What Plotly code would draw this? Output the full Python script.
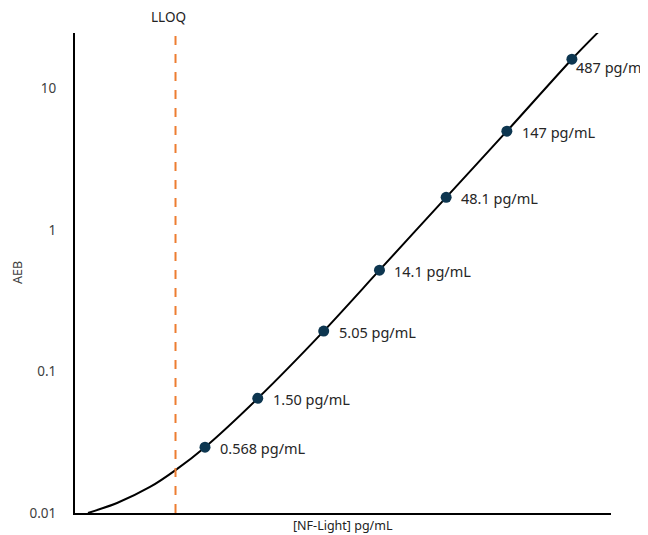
import math
import plotly.graph_objects as go

# Calibrator concentrations (pg/mL) and measured AEB
conc = [0.568, 1.50, 5.05, 14.1, 48.1, 147, 487]
aeb = [0.0292, 0.0646, 0.193, 0.520, 1.70, 4.99, 16.1]
labels = ["0.568 pg/mL", "1.50 pg/mL", "5.05 pg/mL", "14.1 pg/mL",
          "48.1 pg/mL", "147 pg/mL", "487 pg/ml"]

# Fitted curve
curve_x = [0.0659, 0.1125, 0.2063, 0.330, 0.568, 1.50, 5.05, 14.1, 48.1, 147, 487, 787]
curve_y = [0.0100, 0.01177, 0.01527, 0.0201, 0.0292, 0.0646, 0.193, 0.520, 1.70, 4.99, 16.1, 24.9]

lloq = 0.330
y_ticks = [0.01, 0.1, 1, 10]
y_tick_text = ["0.01", "0.1", "1", "10"]

FONT = "Noto Sans"
TXT = "#404040"

fig = go.Figure()
fig.add_trace(go.Scatter(
    x=curve_x, y=curve_y, mode="lines",
    line=dict(color="black", width=2, shape="spline", smoothing=0.8),
    hoverinfo="skip", showlegend=False))
fig.add_trace(go.Scatter(
    x=conc, y=aeb, mode="markers",
    marker=dict(color="#0D3650", size=11),
    showlegend=False))

fig.add_shape(type="line", xref="x", yref="paper",
              x0=lloq, x1=lloq, y0=0, y1=0.996,
              line=dict(color="#ED7D31", width=2, dash="dash"))
fig.add_annotation(x=math.log10(lloq), xref="x", y=1, yref="paper", text="LLOQ",
                   showarrow=False, xanchor="center", yanchor="bottom",
                   xshift=-7, yshift=5, font=dict(family=FONT, size=13.5, color="#222"))

for i, (cx, cy, t) in enumerate(zip(conc, aeb, labels)):
    last = i == len(conc) - 1
    fig.add_annotation(x=math.log10(cx), y=math.log10(cy), text=t, showarrow=False,
                       xanchor="left", yanchor="middle",
                       xshift=2 if last else 13, yshift=-8 if last else -1,
                       font=dict(family=FONT, size=14.5, color="#262626"))

# axis titles
fig.add_annotation(x=0.5, xref="paper", y=0, yref="paper", text="[NF-Light] pg/mL",
                   showarrow=False, xanchor="center", yanchor="top", yshift=-2,
                   font=dict(family=FONT, size=12.5, color="#222"))
fig.add_annotation(x=0, xref="paper", y=0.5, yref="paper", text="AEB", textangle=-90,
                   showarrow=False, xanchor="center", yanchor="middle", xshift=-58,
                   font=dict(family=FONT, size=12.5, color=TXT))

# page body has an 8px margin, so the figure is offset by 8px
fig.update_layout(
    width=640, height=527,
    margin=dict(l=67, r=37, t=25, b=22, autoexpand=False),
    plot_bgcolor="white", paper_bgcolor="white",
    font=dict(family=FONT, size=13.5, color=TXT),
)
fig.update_xaxes(type="log", range=[-1.285, 3.0], showgrid=False, zeroline=False,
                 showticklabels=False, ticks="", showline=True, linecolor="black",
                 linewidth=2, automargin=False)
fig.update_yaxes(type="log", range=[-2, 1.392], showgrid=False, zeroline=False,
                 tickvals=y_ticks, ticktext=y_tick_text, ticks="",
                 ticklabelstandoff=14, automargin=False,
                 showline=True, linecolor="black", linewidth=2,
                 tickfont=dict(family=FONT, size=13.5, color=TXT))

fig.write_html("out.html")
